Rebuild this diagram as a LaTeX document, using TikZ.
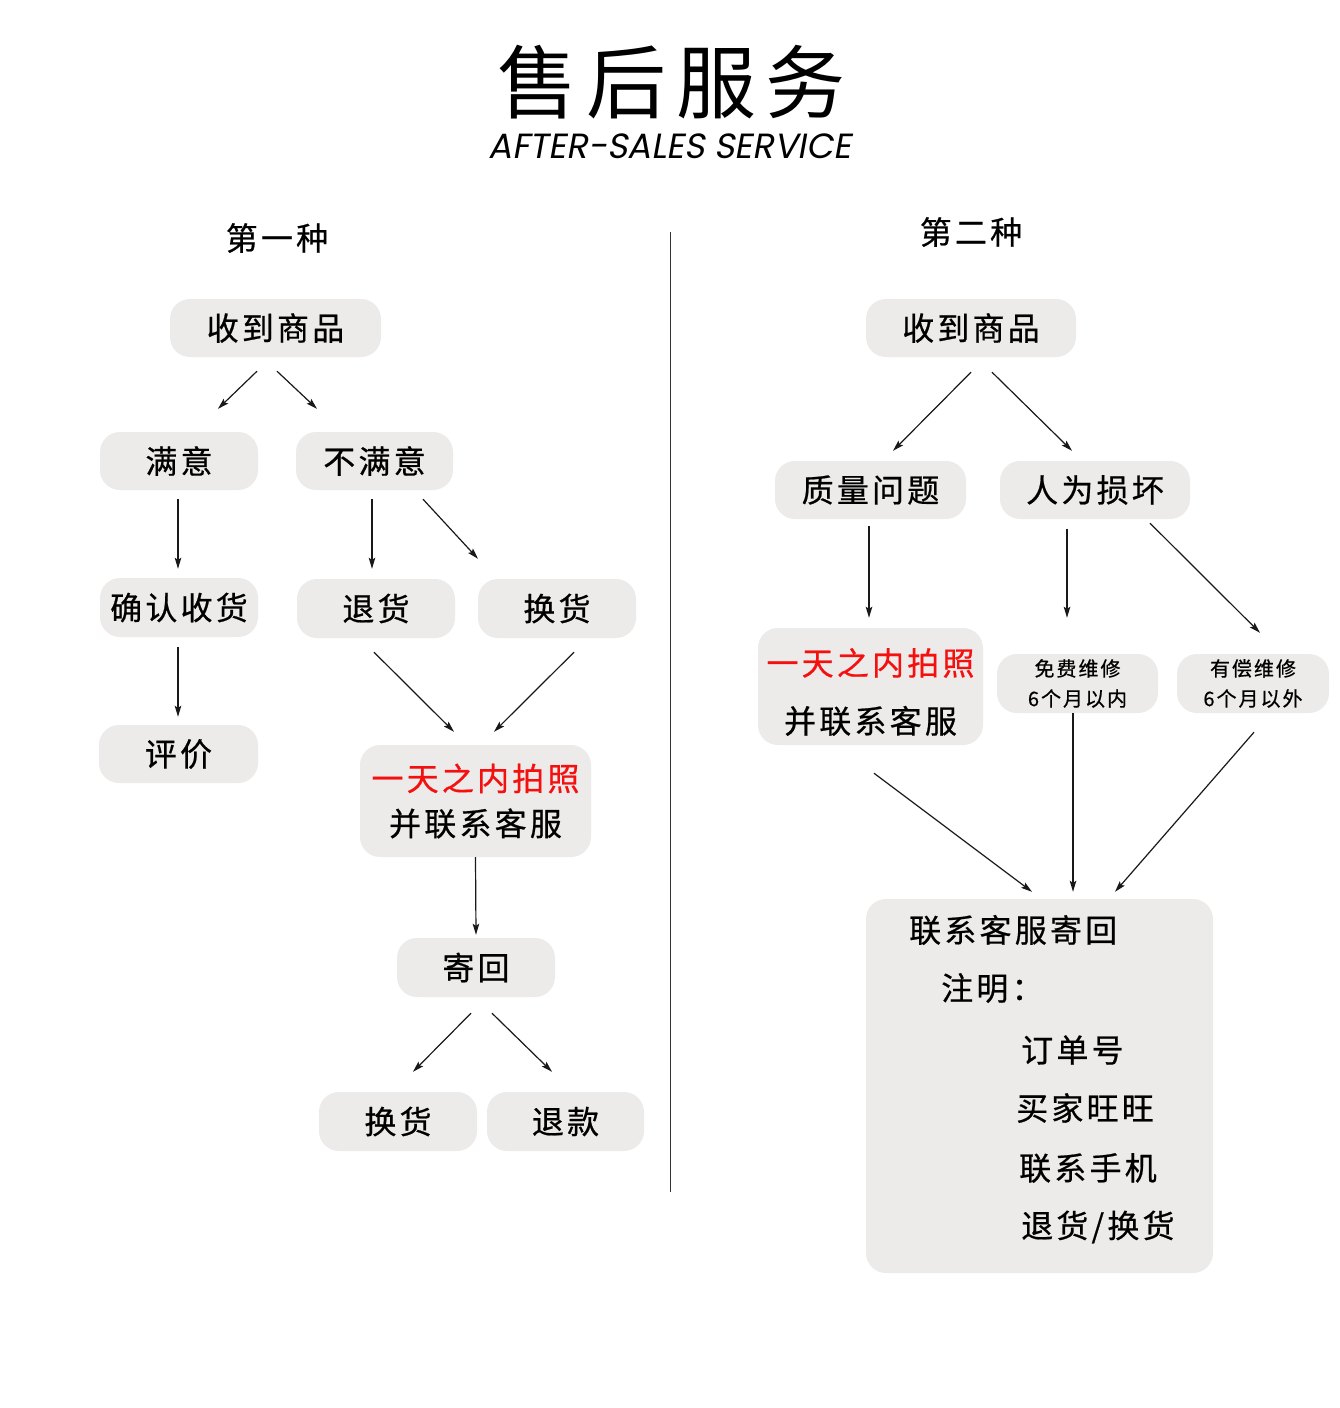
\documentclass[tikz,border=0pt]{standalone}
\usepackage{fontspec}
\usetikzlibrary{arrows.meta,calc}
\setmainfont{Noto Sans CJK SC}
\newfontfamily\boxfont{Noto Sans CJK SC}[LetterSpace=10,FakeBold=0.6]
\newfontfamily\titlefont{Noto Sans CJK SC}[LetterSpace=12]
\newfontfamily\engfont{Poppins}[FakeSlant=0.18]
\definecolor{boxgray}{HTML}{EDEBEA}
\definecolor{myred}{HTML}{F51010}
\begin{document}
\begin{tikzpicture}[x=1pt,y=-1pt,
  box/.style={fill=boxgray, rounded corners=20pt, inner sep=0pt, text=black, align=center,
    font=\boxfont\fontsize{32}{36}\selectfont},
  smallbox/.style={box, font=\boxfont\fontsize{20}{30}\selectfont},
  label/.style={inner sep=0pt, font=\boxfont\fontsize{32}{36}\selectfont},
  bigtext/.style={inner sep=0pt, anchor=west, font=\boxfont\fontsize{32}{36}\selectfont},
  arr/.style={-{Stealth[length=11pt,width=6.5pt,inset=2pt]}, line width=1.2pt, black!90},
]
\useasboundingbox (0,0) rectangle (1340,1408);
\fill[white] (0,0) rectangle (1340,1408);

% title
\node[inner sep=0pt, font=\titlefont\fontsize{80}{96}\selectfont] (title) at (671.5,82) {售后服务};
\node[inner sep=0pt, anchor=base, font=\engfont\fontsize{35}{42}\selectfont] (subtitle) at (670,158) {AFTER-SALES SERVICE};

% section labels
\node[label] (lab1) at (277,238) {第一种};
\node[label] (lab2) at (971,232) {第二种};

% divider
\coordinate (d1) at (670.5,232);
\coordinate (d2) at (670.5,1192);
\draw[line width=1.4pt, black!80] (d1) -- (d2);

% left flow
\node[box, minimum width=211pt, minimum height=58pt] (n1) at (275.5,328) {收到商品};
\node[box, minimum width=158pt, minimum height=58pt] (sat) at (179,461) {满意};
\node[box, minimum width=157pt, minimum height=58pt] (unsat) at (374.5,461) {不满意};
\node[box, minimum width=158pt, minimum height=59pt] (confirm) at (179,607.5) {确认收货};
\node[box, minimum width=158pt, minimum height=59pt] (ret) at (376,608.5) {退货};
\node[box, minimum width=158pt, minimum height=59pt] (exch) at (557,608.5) {换货};
\node[box, minimum width=159pt, minimum height=58pt] (eval) at (178.5,754) {评价};
\node[box, minimum width=231pt, minimum height=112pt, font=\boxfont\fontsize{32}{45}\selectfont] (photo1) at (475.5,801) {\textcolor{myred}{一天之内拍照}\\并联系客服};
\node[box, minimum width=158pt, minimum height=59pt] (sendback) at (476,967.5) {寄回};
\node[box, minimum width=158pt, minimum height=59pt] (exch2) at (398,1121.5) {换货};
\node[box, minimum width=157pt, minimum height=59pt] (refund) at (565.5,1121.5) {退款};

\draw[arr] ($(n1.south)+(-18.5,14)$) -- ($(sat.north)+(39,-23)$);
\draw[arr] ($(n1.south)+(1.5,14)$) -- ($(unsat.north)+(-57.5,-23)$);
\draw[arr] ($(sat.south)+(-1,9)$) -- ($(confirm.north)+(-1,-9)$);
\draw[arr] ($(confirm.south)+(-1,10)$) -- ($(eval.north)+(-0.5,-8)$);
\draw[arr] ($(unsat.south)+(-2.5,9)$) -- ($(ret.north)+(-4,-10)$);
\draw[arr] ($(unsat.south)+(48.5,9)$) -- ($(exch.north)+(-79,-20)$);
\draw[arr] ($(ret.south)+(-2,14)$) -- ($(photo1.north)+(-21.5,-13)$);
\draw[arr] ($(exch.south)+(17,14)$) -- ($(photo1.north)+(18.5,-13)$);
\draw[arr] (photo1.south) -- ($(sendback.north)+(0,-3)$);
\draw[arr] ($(sendback.south)+(-5,16)$) -- ($(exch2.north)+(15,-20)$);
\draw[arr] ($(sendback.south)+(16,16)$) -- ($(refund.north)+(-13.5,-20)$);

% right flow
\node[box, minimum width=210pt, minimum height=58pt] (n2) at (971,328) {收到商品};
\node[box, minimum width=191pt, minimum height=58pt] (quality) at (870.5,490) {质量问题};
\node[box, minimum width=190pt, minimum height=58pt] (human) at (1095,490) {人为损坏};
\node[box, minimum width=225pt, minimum height=117pt, font=\boxfont\fontsize{32}{58}\selectfont] (photo2) at (870.5,686.5) {\rule{0pt}{38pt}\textcolor{myred}{一天之内拍照}\\并联系客服};
\node[smallbox, minimum width=161pt, minimum height=59pt] (free) at (1077.5,683.5) {免费维修\\6个月以内};
\node[smallbox, minimum width=152pt, minimum height=59pt] (paid) at (1253,683.5) {有偿维修\\6个月以外};
\node[box, minimum width=347pt, minimum height=374pt] (big) at (1039.5,1086) {};
\node[bigtext] (t1) at (909,930) {联系客服寄回};
\node[bigtext] (t2) at (941,988) {注明：};
\node[bigtext] (t3) at (1021,1050) {订单号};
\node[bigtext] (t4) at (1016,1108) {买家旺旺};
\node[bigtext] (t5) at (1019,1168) {联系手机};
\node[bigtext] (t6) at (1021,1227) {退货/换货};

\draw[arr] ($(n2.south)+(0,15)$) -- ($(quality.north)+(22.5,-10)$);
\draw[arr] ($(n2.south)+(21,15)$) -- ($(human.north)+(-23,-10)$);
\draw[arr] ($(quality.south)+(-1.5,7)$) -- ($(photo2.north)+(-1.5,-10)$);
\draw[arr] ($(human.south)+(-28,10)$) -- ($(free.north)+(-10.5,-36)$);
\draw[arr] ($(human.south)+(55,4)$) -- ($(paid.north)+(7,-21)$);
\draw[arr] ($(photo2.south)+(3.5,28)$) -- ($(big.north)+(-7.5,-7)$);
\draw[arr] ($(free.south)+(-4.5,0)$) -- ($(big.north)+(33.5,-7)$);
\draw[arr] ($(paid.south)+(1,19)$) -- ($(big.north)+(75.5,-7)$);
\end{tikzpicture}
\end{document}
